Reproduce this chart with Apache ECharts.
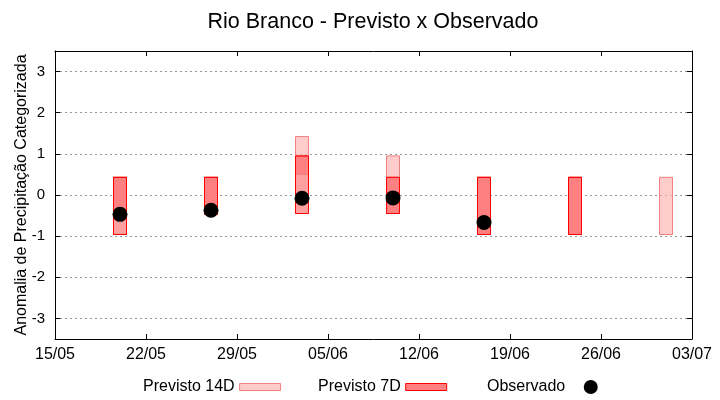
<!DOCTYPE html>
<html>
<head>
<meta charset="utf-8">
<script src="https://cdn.jsdelivr.net/npm/echarts@6/dist/echarts.min.js"></script>
<style>html,body{margin:0;padding:0;background:#fff}#c{width:720px;height:400px}</style>
</head>
<body>
<div id="c"></div>
<script>
// ---- data ----
const startDate = '2023-05-15';
const endDate = '2023-07-03';
const dates7 = ['2023-05-20', '2023-05-27', '2023-06-03', '2023-06-10', '2023-06-17', '2023-06-24'];
const low7 = [-0.96, -0.47, -0.45, -0.45, -0.96, -0.96];
const high7 = [0.43, 0.43, 0.95, 0.43, 0.43, 0.43];
const dates14 = ['2023-05-20', '2023-06-03', '2023-06-03', '2023-06-10', '2023-07-01'];
const low14 = [-0.96, -0.45, 0.95, 0.43, -0.96];
const high14 = [-0.47, 0.50, 1.42, 0.95, 0.43];
const obsDates = ['2023-05-20', '2023-05-27', '2023-06-03', '2023-06-10', '2023-06-17'];
const obsValues = [-0.47, -0.37, -0.08, -0.07, -0.67];

// ---- helpers ----
const DAY = 86400000;
const t0 = Date.parse(startDate);
const dayOf = s => Math.round((Date.parse(s) - t0) / DAY);
const fmtDay = d => {
  const dt = new Date(t0 + d * DAY);
  const dd = String(dt.getUTCDate()).padStart(2, '0');
  const mm = String(dt.getUTCMonth() + 1).padStart(2, '0');
  return dd + '/' + mm;
};
const data7 = dates7.map((d, i) => [dayOf(d), low7[i], high7[i]]);
const data14 = dates14.map((d, i) => [dayOf(d), low14[i], high14[i]]);
const dataObs = obsDates.map((d, i) => [dayOf(d), obsValues[i]]);

function boxRenderer(fill, stroke) {
  return function (params, api) {
    const x = api.value(0), lo = api.value(1), hi = api.value(2);
    const p1 = api.coord([x - 0.5, hi]);
    const p2 = api.coord([x + 0.5, lo]);
    return {
      type: 'rect',
      shape: { x: p1[0], y: p1[1], width: p2[0] - p1[0], height: p2[1] - p1[1] },
      style: { fill: fill, stroke: stroke, lineWidth: 1 }
    };
  };
}

const FONT = 'Liberation Sans';
const chart = echarts.init(document.getElementById('c'), null, { renderer: 'canvas' });
const axisBase = {
  axisLine: { show: true, onZero: false, lineStyle: { color: '#000', width: 1 } },
  axisTick: { show: true, inside: true, length: 5, lineStyle: { color: '#000' } }
};
const legendText = { fontFamily: FONT, fontSize: 16, color: '#000' };
chart.setOption({
  animation: false,
  backgroundColor: '#fff',
  title: {
    text: 'Rio Branco - Previsto x Observado',
    left: 368, textAlign: 'center', top: 6,
    textStyle: { fontFamily: FONT, fontSize: 21.5, fontWeight: 'normal', color: '#000' }
  },
  grid: { left: 55, right: 28, top: 51, bottom: 61, containLabel: false, outerBoundsMode: 'none' },
  legend: [
    { data: [{ name: 'Previsto 14D', icon: 'rect', itemStyle: { color: '#ffcccc', borderColor: '#f08080', borderWidth: 1 } }],
      left: 143, top: 379, padding: 0, align: 'right', itemWidth: 41, itemHeight: 7, textStyle: legendText },
    { data: [{ name: 'Previsto 7D', icon: 'rect', itemStyle: { color: '#ff8080', borderColor: '#ff0000', borderWidth: 1 } }],
      left: 318, top: 379, padding: 0, align: 'right', itemWidth: 41, itemHeight: 7, textStyle: legendText },
    { data: [{ name: 'Observado', icon: 'circle', itemStyle: { color: '#000', opacity: 1 } }],
      left: 487, top: 379, padding: 0, align: 'right', itemWidth: 41, itemHeight: 14, textStyle: legendText }
  ],
  xAxis: [
    Object.assign({}, axisBase, {
      type: 'value', min: 0, max: dayOf(endDate), interval: 7, position: 'bottom',
      splitLine: { show: false },
      axisLabel: { formatter: fmtDay, margin: 8, fontFamily: FONT, fontSize: 16, color: '#000' }
    }),
    Object.assign({}, axisBase, {
      type: 'value', min: 0, max: dayOf(endDate), interval: 7, position: 'top',
      splitLine: { show: false }, axisLabel: { show: false }
    })
  ],
  yAxis: [
    Object.assign({}, axisBase, {
      type: 'value', min: -3.5, max: 3.5, splitNumber: 7, position: 'left',
      name: 'Anomalia de Precipitação Categorizada', nameLocation: 'middle', nameGap: 25,
      nameMoveOverlap: false,
      nameTextStyle: { fontFamily: FONT, fontSize: 16, color: '#000' },
      splitLine: { show: true, lineStyle: { color: '#999', type: [2, 3], width: 1 } },
      axisLabel: { formatter: v => (Number.isInteger(v) ? String(v) : ''), margin: 10, fontFamily: FONT, fontSize: 15, color: '#000' }
    }),
    Object.assign({}, axisBase, {
      type: 'value', min: -3.5, max: 3.5, splitNumber: 7, position: 'right',
      splitLine: { show: false }, axisLabel: { show: false }
    })
  ],
  series: [
    { name: 'Previsto 7D', type: 'custom', xAxisIndex: 0, yAxisIndex: 0, z: 2,
      itemStyle: { color: '#ff8080', borderColor: '#ff0000' },
      renderItem: boxRenderer('#ff8080', '#ff0000'), data: data7 },
    { name: 'Previsto 14D', type: 'custom', xAxisIndex: 0, yAxisIndex: 0, z: 3,
      itemStyle: { color: '#ffcccc', borderColor: '#f08080' },
      renderItem: boxRenderer('rgba(255,177,177,0.65)', '#f08080'), data: data14 },
    { name: '7D outline', type: 'custom', xAxisIndex: 0, yAxisIndex: 0, z: 4, silent: true,
      renderItem: boxRenderer('none', '#ff0000'), data: data7 },
    { name: 'Observado', type: 'scatter', xAxisIndex: 0, yAxisIndex: 0, z: 5,
      symbol: 'circle', symbolSize: 15, itemStyle: { color: '#000', opacity: 1 }, data: dataObs }
  ]
});
</script>
</body>
</html>
